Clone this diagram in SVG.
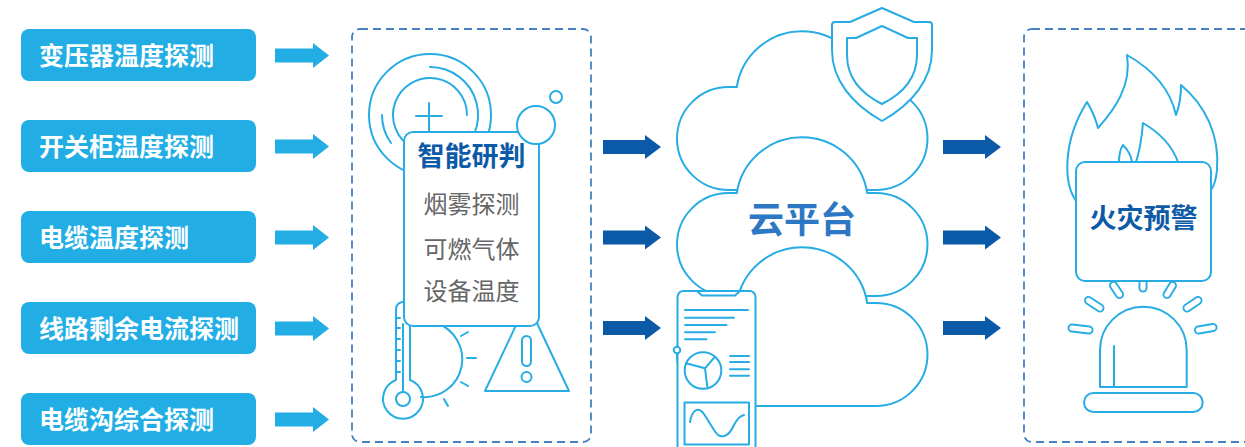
<svg xmlns="http://www.w3.org/2000/svg" width="1245" height="447" viewBox="0 0 1245 447">
  <style>
    .ln{fill:none;stroke:#27ACE4;stroke-width:2;stroke-linecap:round;stroke-linejoin:round}
    .wf{fill:#fff;stroke:#27ACE4;stroke-width:2;stroke-linejoin:round}
    .dash{fill:none;stroke:#4581C3;stroke-width:1.8;stroke-dasharray:8 5}
    .src rect{fill:#22AEE5}
    .src text{font-family:"Noto Sans CJK SC","Noto Sans",sans-serif;font-weight:700;font-size:25px;fill:#fff}
    .title{font-family:"Noto Sans CJK SC","Noto Sans",sans-serif;font-weight:700;fill:#0D5AA7;text-anchor:middle}
    .item{font-family:"Noto Sans CJK SC","Noto Sans",sans-serif;font-size:24px;fill:#666;text-anchor:middle}
    .ray-o{stroke:#27ACE4;stroke-width:9;stroke-linecap:round}
    .ray-i{stroke:#fff;stroke-width:5.2;stroke-linecap:round}
  </style>
  <defs>
    <path id="arrowLight" d="M0 -7 H38 V-12.5 L54 0 L38 12.5 V7 H0 Z" fill="#22AEE5"/>
    <path id="arrowDark" d="M0 -7 H42 V-12 L58 0 L42 12 V7 H0 Z" fill="#0B5AA8"/>
    <path id="cloudShape" d="M736.8 87 L728.5 87 A51.5 51.5 0 0 0 728.5 190 L876 190 A51.5 51.5 0 0 0 876 87 L867.2 87 A66 66 0 0 0 736.8 87 Z"/>
  </defs>

  <!-- detection sources -->
  <g id="sources" class="src">
    <g id="src-transformer"><rect x="21" y="29" width="235" height="52" rx="8"/><text x="39" y="64.5">变压器温度探测</text></g>
    <g id="src-switchgear"><rect x="21" y="120" width="235" height="52" rx="8"/><text x="39" y="155.5">开关柜温度探测</text></g>
    <g id="src-cable"><rect x="21" y="211" width="235" height="52" rx="8"/><text x="39" y="246.5">电缆温度探测</text></g>
    <g id="src-residual"><rect x="21" y="302" width="235" height="52" rx="8"/><text x="39" y="337.5">线路剩余电流探测</text></g>
    <g id="src-trench"><rect x="21" y="393" width="235" height="52" rx="8"/><text x="39" y="428.5">电缆沟综合探测</text></g>
  </g>

  <!-- connectors -->
  <g id="connectors">
    <use href="#arrowLight" x="275" y="55.5"/>
    <use href="#arrowLight" x="275" y="146.5"/>
    <use href="#arrowLight" x="275" y="237.5"/>
    <use href="#arrowLight" x="275" y="328.5"/>
    <use href="#arrowLight" x="275" y="419.5"/>
    <use href="#arrowDark" x="603" y="147"/>
    <use href="#arrowDark" x="603" y="237.5"/>
    <use href="#arrowDark" x="603" y="328"/>
    <use href="#arrowDark" x="943" y="147"/>
    <use href="#arrowDark" x="943" y="237.5"/>
    <use href="#arrowDark" x="943" y="328"/>
  </g>

  <!-- intelligent analysis panel -->
  <g id="analysis">
    <rect class="dash" x="352" y="29" width="239" height="413" rx="8"/>
    <!-- rings and crosshair -->
    <circle class="ln" cx="430" cy="115" r="61"/>
    <path class="ln" d="M430 67 A48 48 0 0 1 454 156.6"/>
    <path class="ln" d="M382 115 A48 48 0 0 0 391 143"/>
    <path class="ln" d="M467 115 A37 37 0 1 0 412 147.3"/>
    <path class="ln" d="M416 116 H442 M429 103 V133"/>
    <!-- thermometer -->
    <path class="ln" d="M396 380 V309 A7 7 0 0 1 410 309 V380 A20 20 0 1 1 396 380"/>
    <path class="ln" d="M403 324 V392 M396 318 H400 M396 328 H400 M396 339 H400 M396 350 H400 M396 361 H400 M396 372 H400"/>
    <circle class="ln" cx="403" cy="399" r="7"/>
    <!-- gauge -->
    <path class="ln" d="M436 323 A38 38 0 0 1 421 397"/>
    <path class="ln" d="M461 336 L468 332 M467 358 H476 M461 382 L468 386 M444 399 L448 406"/>
    <!-- warning triangle -->
    <path class="ln" d="M527 302 L569 391 H485 Z"/>
    <rect class="ln" x="522" y="336" width="9" height="30" rx="4.5"/>
    <circle class="ln" cx="526.5" cy="377" r="5"/>
    <!-- card -->
    <rect class="wf" x="404" y="132" width="135" height="194" rx="9"/>
    <circle class="wf" cx="536" cy="125" r="19"/>
    <circle class="ln" cx="556" cy="97" r="6"/>
    <text class="title" x="471.5" y="166" font-size="27">智能研判</text>
    <text class="item" x="471.5" y="213">烟雾探测</text>
    <text class="item" x="471.5" y="257.5">可燃气体</text>
    <text class="item" x="471.5" y="300">设备温度</text>
  </g>

  <!-- cloud platform -->
  <g id="cloud">
    <use href="#cloudShape" class="wf"/>
    <path class="wf" d="M882 8 L914 22 L929 22 Q932 22 932 25 L932 50 C932 80 912 104 882 121 C852 104 832 80 832 50 L832 25 Q832 22 835 22 L850 22 Z"/>
    <path class="ln" d="M882 26 L908 38 L917 38 L917 55 C917 78 902 94 882 104 C862 94 847 78 847 55 L847 38 L856 38 Z"/>
    <use href="#cloudShape" class="wf" y="106"/>
    <use href="#cloudShape" class="wf" y="216"/>
    <text x="802" y="232.5" font-family="Noto Sans CJK SC, Noto Sans, sans-serif" font-weight="700" font-size="36" fill="#2D78C5" text-anchor="middle">云平台</text>
    <!-- phone -->
    <rect class="wf" x="677.5" y="291" width="78" height="175" rx="6"/>
    <path class="ln" d="M697 291 L702 295.5 H735 L740 291"/>
    <path class="ln" stroke-width="1.8" d="M685 310 H748 M685 317.7 H734 M685 325 H726.5 M685 332.3 H715 M685 339.3 H706.5"/>
    <circle class="wf" cx="677" cy="350" r="3.3"/>
    <circle class="ln" cx="703" cy="370.5" r="18.3"/>
    <path class="ln" d="M705 368.3 L686 363.3 M705 368.3 L715 356.7 M705 368.3 L707.3 386.7"/>
    <path class="ln" stroke-width="1.8" d="M730 356 H749 M730 362 H749 M730 369.3 H749 M730 375.7 H749"/>
    <rect class="ln" x="684.5" y="402.5" width="64.5" height="42"/>
    <path class="ln" d="M690 422 C692 410 698 406 704 414 L714 430 C720 440 728 438 734 425 C737 419 740 416 744 415"/>
  </g>

  <!-- fire alarm panel -->
  <g id="alarm">
    <rect class="dash" x="1024" y="29" width="240" height="413" rx="8"/>
    <!-- flames -->
    <path class="ln" d="M1076 201 C1063 182 1063 140 1087 102 C1093 112 1096 120 1098 128 C1114 110 1132 86 1127 55 C1150 68 1170 88 1176 115 C1180 105 1181 95 1181 85 C1205 105 1220 135 1217 170 C1216 180 1214 186 1211 190"/>
    <path class="ln" d="M1119 162 C1119 153 1121 148 1123 145 C1128 150 1131 155 1132 162 M1136 162 C1140 150 1142 135 1143 123 C1160 133 1172 145 1178 162"/>
    <!-- beacon rays -->
    <g>
      <line class="ray-o" x1="1072" y1="328" x2="1089" y2="330"/>
      <line class="ray-o" x1="1088.5" y1="300.5" x2="1100" y2="308"/>
      <line class="ray-o" x1="1113.5" y1="285.5" x2="1119.5" y2="294.5"/>
      <line class="ray-o" x1="1143" y1="279" x2="1143" y2="288"/>
      <line class="ray-o" x1="1172.5" y1="285.5" x2="1167" y2="294.5"/>
      <line class="ray-o" x1="1198" y1="300.5" x2="1187" y2="308"/>
      <line class="ray-o" x1="1213" y1="327.5" x2="1198.5" y2="330"/>
      <line class="ray-i" x1="1072" y1="328" x2="1089" y2="330"/>
      <line class="ray-i" x1="1088.5" y1="300.5" x2="1100" y2="308"/>
      <line class="ray-i" x1="1113.5" y1="285.5" x2="1119.5" y2="294.5"/>
      <line class="ray-i" x1="1143" y1="279" x2="1143" y2="288"/>
      <line class="ray-i" x1="1172.5" y1="285.5" x2="1167" y2="294.5"/>
      <line class="ray-i" x1="1198" y1="300.5" x2="1187" y2="308"/>
      <line class="ray-i" x1="1213" y1="327.5" x2="1198.5" y2="330"/>
    </g>
    <!-- warning card -->
    <rect class="wf" x="1076" y="162" width="135" height="119" rx="9"/>
    <text class="title" x="1143.5" y="228" font-size="27">火灾预警</text>
    <!-- beacon -->
    <path class="ln" d="M1100 387 V350 A43.3 43.3 0 0 1 1186.7 350 V387 Z"/>
    <path class="ln" d="M1114 346 V387"/>
    <rect class="ln" x="1084" y="393" width="118.7" height="19" rx="9.5"/>
  </g>
</svg>
